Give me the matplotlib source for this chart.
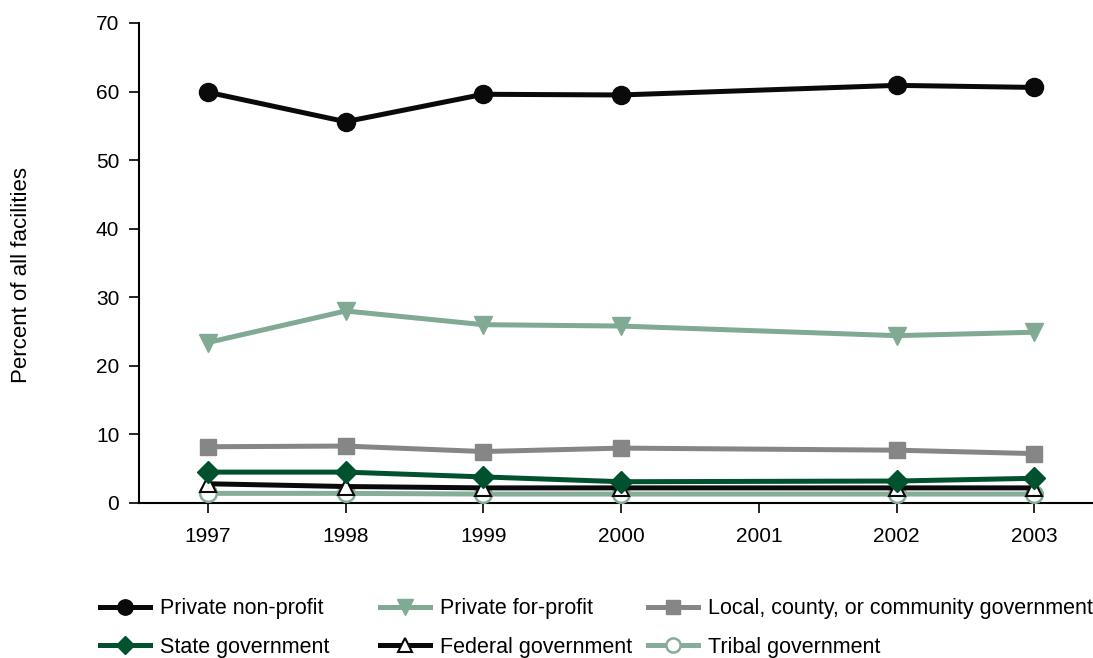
import matplotlib.pyplot as plt

plt.rcParams['font.family'] = ['Liberation Sans', 'DejaVu Sans']

years = [1997, 1998, 1999, 2000, 2002, 2003]
private_nonprofit = [59.9, 55.6, 59.6, 59.5, 60.9, 60.6]
private_forprofit = [23.4, 28.0, 26.0, 25.8, 24.4, 24.9]
local_gov = [8.2, 8.3, 7.5, 8.0, 7.7, 7.2]
state_gov = [4.5, 4.5, 3.8, 3.1, 3.2, 3.6]
federal_gov = [2.8, 2.4, 2.2, 2.2, 2.2, 2.2]
tribal_gov = [1.4, 1.4, 1.3, 1.3, 1.3, 1.3]
tick_years = [1997, 1998, 1999, 2000, 2001, 2002, 2003]

fig = plt.figure(figsize=(10.93, 6.58), dpi=100, facecolor='w')
ax = fig.add_axes([0.1272, 0.2356, 0.872, 0.7295])

lw = 3.6
ax.plot(years, tribal_gov, '-o', color='#85ad97', lw=lw, ms=12,
        mfc='white', mec='#85ad97', mew=1.8, label='Tribal government', zorder=3)
ax.plot(years, federal_gov, '-^', color='#0a0a0a', lw=lw, ms=12,
        mfc='white', mec='#0a0a0a', mew=1.5, label='Federal government', zorder=4)
ax.plot(years, state_gov, '-D', color='#00522e', lw=lw, ms=11,
        label='State government', zorder=5)
ax.plot(years, local_gov, '-s', color='#868686', lw=lw, ms=12,
        label='Local, county, or community government', zorder=3)
ax.plot(years, private_forprofit, '-v', color='#80aa93', lw=lw, ms=13,
        label='Private for-profit', zorder=3)
ax.plot(years, private_nonprofit, '-o', color='#0a0a0a', lw=lw, ms=13,
        label='Private non-profit', zorder=3)

ax.set_xlim(1996.5, 2003.42)
ax.set_ylim(0, 70)
ax.set_xticks(tick_years)
ax.set_yticks(range(0, 71, 10))
ax.tick_params(labelsize=15, length=7.2, width=1.2)
ax.tick_params(axis='x', pad=10)
ax.tick_params(axis='y', pad=7)
for s in ['top', 'right']:
    ax.spines[s].set_visible(False)
for s in ['left', 'bottom']:
    ax.spines[s].set_linewidth(1.5)
fig.text(22 / 1093, 1 - 275 / 658, 'Percent of all facilities', fontsize=16,
         rotation=90, ha='center', va='center')

# legend laid out in three separate columns, like the original
h = {l.get_label(): l for l in ax.get_lines()}
columns = [(['Private non-profit', 'State government'], 100),
           (['Private for-profit', 'Federal government'], 380),
           (['Local, county, or community government', 'Tribal government'], 648)]
for names, xpx in columns:
    fig.legend([h[n] for n in names], names, loc='center left',
               bbox_to_anchor=(xpx / 1093, 1 - 628 / 658), frameon=False,
               fontsize=15.5, handlelength=2.32, handletextpad=0.45,
               labelspacing=0.8, borderpad=0, borderaxespad=0,
               markerscale=0.85)

plt.savefig('out.png', dpi=100)
